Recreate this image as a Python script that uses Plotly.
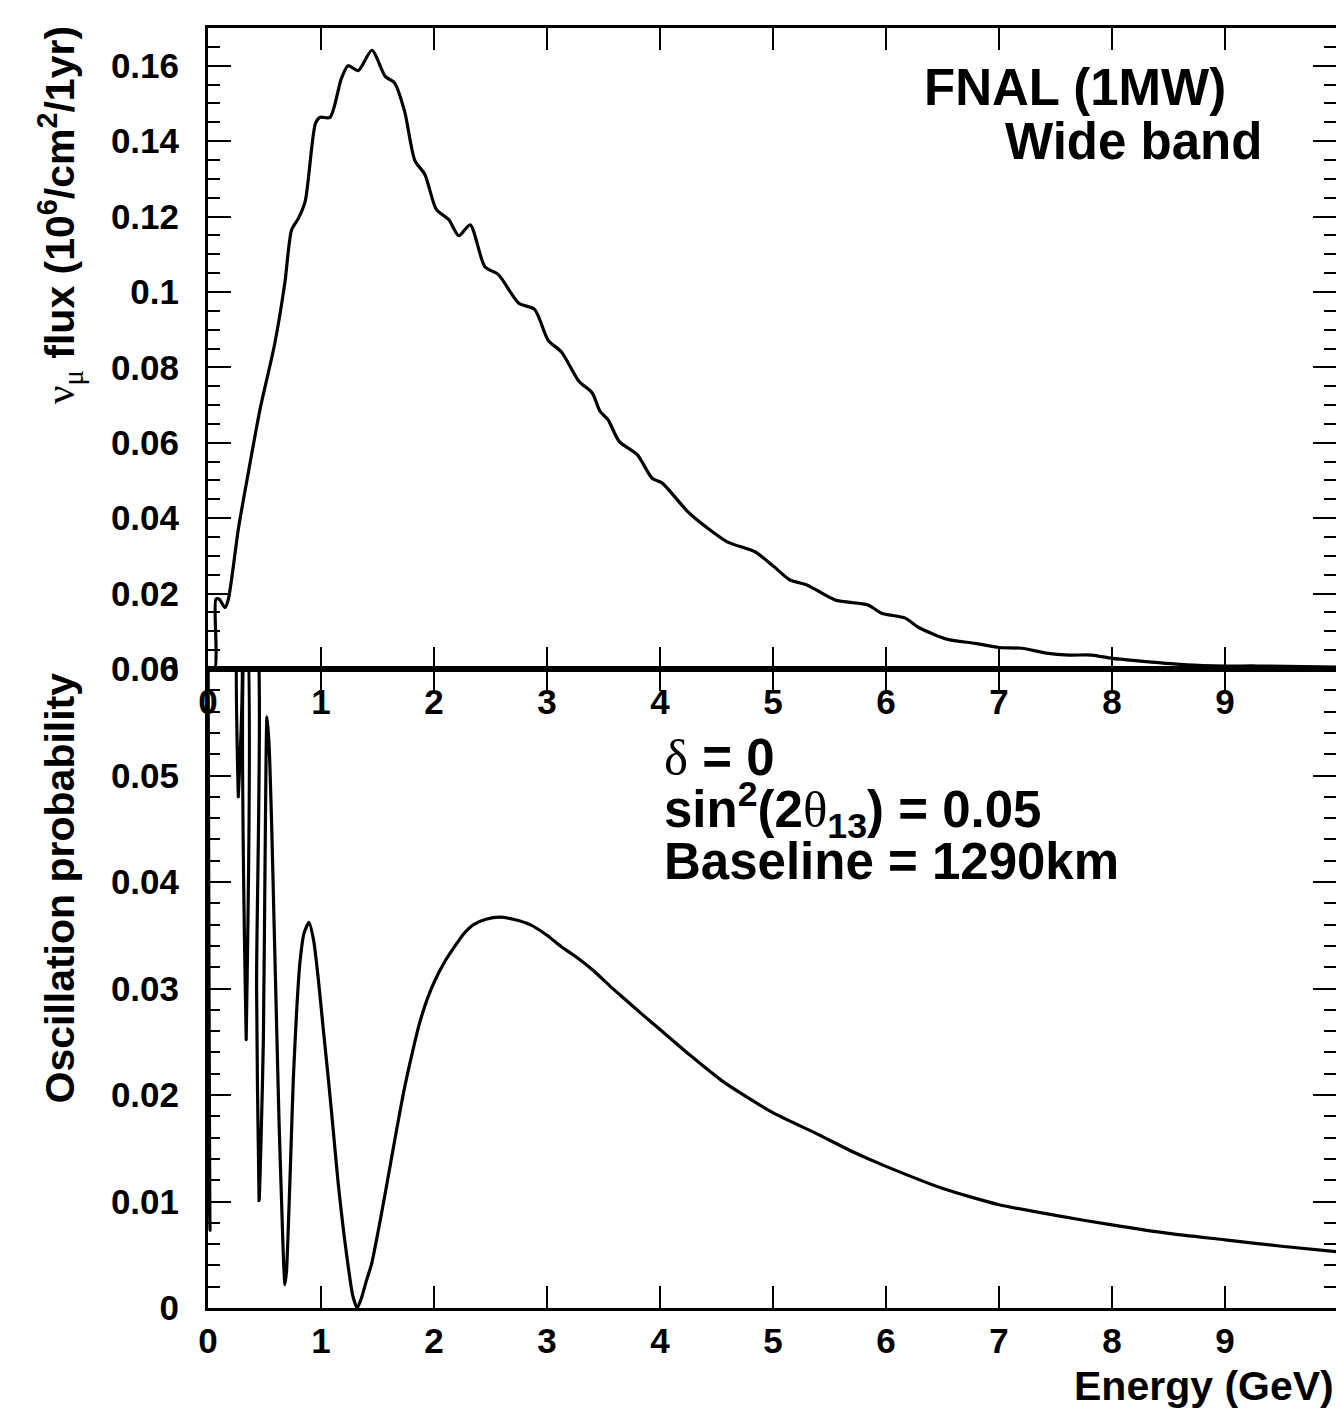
import plotly.graph_objects as go

# ---------------- data ----------------
flux_energy = [0.000, 0.060, 0.070, 0.100, 0.150, 0.180, 0.270, 0.360, 0.460, 0.590,
               0.680, 0.740, 0.800, 0.860, 0.950, 0.990, 1.080, 1.180, 1.240, 1.330,
               1.450, 1.570, 1.650, 1.740, 1.830, 1.920, 2.020, 2.130, 2.220, 2.320,
               2.450, 2.570, 2.750, 2.890, 3.010, 3.130, 3.280, 3.400, 3.470, 3.540,
               3.640, 3.800, 3.930, 4.020, 4.260, 4.590, 4.840, 5.010, 5.150, 5.300,
               5.550, 5.840, 5.960, 6.170, 6.290, 6.540, 6.790, 7.000, 7.200, 7.420,
               7.620, 7.820, 8.000, 8.250, 8.660, 9.000, 9.280, 9.982]
flux_values = [0.0000, 0.0000, 0.0185, 0.0185, 0.0163, 0.0185, 0.0374, 0.0526, 0.0688, 0.0862,
               0.1024, 0.1165, 0.1195, 0.1240, 0.1446, 0.1463, 0.1463, 0.1566, 0.1600, 0.1587,
               0.1641, 0.1571, 0.1555, 0.1479, 0.1349, 0.1311, 0.1219, 0.1192, 0.1149, 0.1178,
               0.1067, 0.1046, 0.0970, 0.0954, 0.0872, 0.0840, 0.0764, 0.0732, 0.0683, 0.0661,
               0.0603, 0.0568, 0.0506, 0.0493, 0.0413, 0.0338, 0.0311, 0.0271, 0.0236, 0.0223,
               0.0183, 0.0170, 0.0148, 0.0135, 0.0110, 0.0079, 0.0068, 0.0057, 0.0055, 0.0042,
               0.0037, 0.0037, 0.0028, 0.0021, 0.0011, 0.0008, 0.0008, 0.0005]

osc_energy = [0.000, 0.018, 0.036, 0.262, 0.268, 0.274, 0.328, 0.338, 0.348, 0.415,
              0.430, 0.452, 0.470, 0.490, 0.505, 0.522, 0.540, 0.564, 0.585, 0.608,
              0.630, 0.652, 0.668, 0.681, 0.695, 0.711, 0.733, 0.755, 0.785, 0.814,
              0.850, 0.894, 0.935, 0.976, 1.020, 1.065, 1.110, 1.153, 1.200, 1.242,
              1.280, 1.320, 1.360, 1.400, 1.449, 1.520, 1.589, 1.660, 1.730, 1.800,
              1.871, 1.940, 2.010, 2.100, 2.180, 2.260, 2.350, 2.460, 2.580, 2.700,
              2.850, 3.000, 3.130, 3.280, 3.420, 3.560, 3.700, 3.850, 4.005, 4.270,
              4.540, 4.770, 5.006, 5.380, 5.700, 6.000, 6.510, 7.000, 7.500, 8.000,
              8.500, 9.000, 9.500, 9.982]
osc_prob = [0.0650, 0.0073, 0.0650, 0.0650, 0.0480, 0.0650, 0.0650, 0.0252, 0.0650, 0.0650,
            0.0300, 0.0101, 0.0160, 0.0252, 0.0420, 0.0555, 0.0530, 0.0451, 0.0360, 0.0262,
            0.0170, 0.0097, 0.0045, 0.0022, 0.0035, 0.0077, 0.0145, 0.0215, 0.0280, 0.0325,
            0.0352, 0.0362, 0.0345, 0.0309, 0.0262, 0.0215, 0.0165, 0.0116, 0.0072, 0.0038,
            0.0012, 0.0000, 0.0010, 0.0025, 0.0042, 0.0080, 0.0120, 0.0162, 0.0202, 0.0236,
            0.0267, 0.0290, 0.0308, 0.0326, 0.0339, 0.0351, 0.0360, 0.0365, 0.0367, 0.0365,
            0.0360, 0.0350, 0.0339, 0.0328, 0.0316, 0.0302, 0.0289, 0.0275, 0.0261, 0.0237,
            0.0214, 0.0198, 0.0183, 0.0164, 0.0147, 0.0133, 0.0112, 0.0097, 0.0087, 0.0078,
            0.0070, 0.0064, 0.0058, 0.0053]

x_ticks = [0, 1, 2, 3, 4, 5, 6, 7, 8, 9]
x_labels = ["0", "1", "2", "3", "4", "5", "6", "7", "8", "9"]
flux_ticks = [0, 0.02, 0.04, 0.06, 0.08, 0.10, 0.12, 0.14, 0.16]
flux_labels = ["0", "0.02", "0.04", "0.06", "0.08", "0.1", "0.12", "0.14", "0.16"]
prob_ticks = [0, 0.01, 0.02, 0.03, 0.04, 0.05, 0.06]
prob_labels = ["0", "0.01", "0.02", "0.03", "0.04", "0.05", "0.06"]

# ---------------- layout helpers ----------------
W, H = 1336, 1412
FONT = "Liberation Sans, Arial, Helvetica, sans-serif"
GREEK = "font-family:'Liberation Serif','Times New Roman',serif;font-weight:normal"


def fx(px):
    return px / W


def fy(py):
    return 1 - py / H


def greek(ch):
    return '<span style="%s">%s</span>' % (GREEK, ch)


X_DOM = [fx(208), 1.0]
TOP_DOM = [fy(669), fy(28)]
BOT_DOM = [fy(1308), fy(669)]

fig = go.Figure()
fig.add_trace(go.Scatter(x=flux_energy, y=flux_values, mode="lines",
                         line=dict(color="black", width=3.2, shape="spline", smoothing=0.7),
                         xaxis="x", yaxis="y", showlegend=False, hoverinfo="skip"))
fig.add_trace(go.Scatter(x=osc_energy, y=osc_prob, mode="lines",
                         line=dict(color="black", width=3.2, shape="spline", smoothing=0.6),
                         xaxis="x2", yaxis="y2", showlegend=False, hoverinfo="skip"))

tickfont = dict(family=FONT, size=35, color="black", weight="bold")
common_x = dict(range=[0, 9.982], domain=X_DOM, tickmode="array", tickvals=x_ticks,
                ticktext=x_labels, ticks="inside", ticklen=22, tickwidth=2,
                tickcolor="black", showline=True, linewidth=3, linecolor="black",
                mirror="ticks", showgrid=False, zeroline=False, tickfont=tickfont,
                ticklabelstandoff=0, automargin=False, fixedrange=True)
common_y = dict(ticks="inside", ticklen=23, tickwidth=2, tickcolor="black",
                showline=True, linewidth=3, linecolor="black", mirror="ticks",
                showgrid=False, zeroline=False, tickfont=tickfont, tickmode="array",
                ticklabelstandoff=19, automargin=False, fixedrange=True)

fig.update_layout(
    width=W, height=H,
    margin=dict(l=0, r=0, t=0, b=0, pad=0),
    paper_bgcolor="white", plot_bgcolor="white",
    showlegend=False,
    xaxis=dict(anchor="y", **common_x),
    yaxis=dict(anchor="x", domain=TOP_DOM, range=[0, 0.17], tickvals=flux_ticks,
               ticktext=flux_labels,
               minor=dict(tickmode="linear", tick0=0, dtick=0.005, ticks="inside",
                          ticklen=12, tickwidth=2, tickcolor="black", showgrid=False),
               **common_y),
    xaxis2=dict(anchor="y2", **common_x),
    yaxis2=dict(anchor="x2", domain=BOT_DOM, range=[0, 0.06], tickvals=prob_ticks,
                ticktext=prob_labels,
                minor=dict(tickmode="linear", tick0=0, dtick=0.002, ticks="inside",
                           ticklen=12, tickwidth=2, tickcolor="black", showgrid=False),
                **common_y),
)

big = dict(family=FONT, size=51, color="black", weight="bold")
title_font = dict(family=FONT, size=41, color="black", weight="bold")

annotations = [
    dict(text="FNAL (1MW)", x=fx(922), y=fy(88), xanchor="left", yanchor="middle",
         font=big),
    dict(text="Wide band", x=fx(1003), y=fy(141), xanchor="left", yanchor="middle",
         font=big),
    dict(text=greek("δ") + " = 0", x=fx(662), y=fy(757),
         xanchor="left", yanchor="middle", font=big),
    dict(text="sin<sup>2</sup>(2" + greek("θ") + "<sub>13</sub>) = 0.05",
         x=fx(662), y=fy(810), xanchor="left", yanchor="middle", font=big),
    dict(text="Baseline = 1290km", x=fx(662), y=fy(862), xanchor="left",
         yanchor="middle", font=big),
    dict(text=greek("ν") + "<sub>" + greek("μ") + "</sub> flux (10<sup>6</sup>/cm<sup>2</sup>/1yr)",
         x=fx(60), y=fy(24), xanchor="center", yanchor="top", textangle=-90,
         font=title_font),
    dict(text="Oscillation probability", x=fx(60), y=fy(671), xanchor="center",
         yanchor="top", textangle=-90, font=title_font),
    dict(text="Energy (GeV)", x=fx(1336), y=fy(1386), xanchor="right",
         yanchor="middle", font=title_font),
]
for a in annotations:
    a.update(xref="paper", yref="paper", showarrow=False)
fig.update_layout(annotations=annotations)

fig.write_html("out.html", config={"displayModeBar": False},
               post_script="document.body.style.margin='0';document.body.style.overflow='hidden';")
